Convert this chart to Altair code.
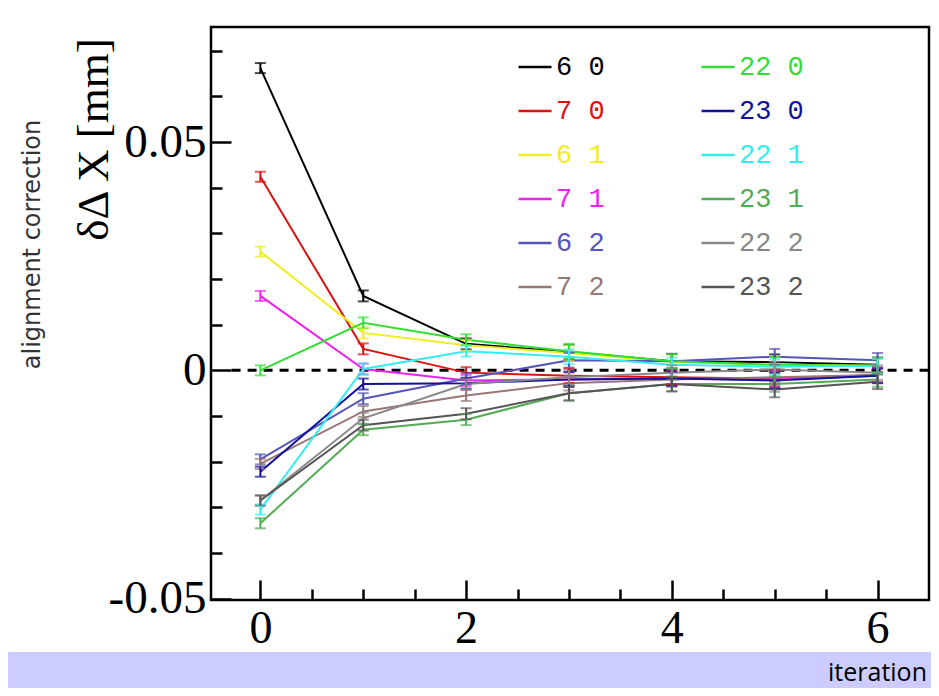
import altair as alt
import pandas as pd

iterations = [0, 1, 2, 3, 4, 5, 6]

# legend order (filled column by column, two columns)
series = ["6 0", "7 0", "6 1", "7 1", "6 2", "7 2", "22 0", "23 0", "22 1", "23 1", "22 2", "23 2"]
colors = ["#000000", "#dd1111", "#eeee22", "#ee22ee", "#5555bb", "#997777",
          "#33dd33", "#111199", "#33eeee", "#55aa55", "#888888", "#555555"]

s6_0 = [0.0662, 0.0163, 0.0058, 0.0040, 0.0020, 0.0018, 0.0012]
s7_0 = [0.0424, 0.0047, -0.0005, -0.0012, -0.0015, -0.0018, -0.0010]
s6_1 = [0.0260, 0.0082, 0.0055, 0.0038, 0.0018, 0.0012, 0.0010]
s7_1 = [0.0163, 0.0003, -0.0022, -0.0020, -0.0018, -0.0020, -0.0012]
s6_2 = [-0.0195, -0.0062, -0.0018, 0.0022, 0.0020, 0.0030, 0.0022]
s7_2 = [-0.0205, -0.0090, -0.0055, -0.0028, -0.0020, -0.0015, -0.0010]
s22_0 = [0.0000, 0.0104, 0.0067, 0.0042, 0.0020, 0.0012, 0.0010]
s23_0 = [-0.0222, -0.0030, -0.0028, -0.0020, -0.0018, -0.0022, -0.0012]
s22_1 = [-0.0305, 0.0003, 0.0042, 0.0030, 0.0012, 0.0008, 0.0010]
s23_1 = [-0.0335, -0.0130, -0.0108, -0.0050, -0.0030, -0.0030, -0.0020]
s22_2 = [-0.0285, -0.0105, -0.0030, -0.0015, -0.0005, 0.0002, -0.0005]
s23_2 = [-0.0285, -0.0120, -0.0095, -0.0050, -0.0030, -0.0042, -0.0025]

errors = [0.0011, 0.0012, 0.0012, 0.0016, 0.0016, 0.0017, 0.0016]

values = {"6 0": s6_0, "7 0": s7_0, "6 1": s6_1, "7 1": s7_1, "6 2": s6_2, "7 2": s7_2,
          "22 0": s22_0, "23 0": s23_0, "22 1": s22_1, "23 1": s23_1, "22 2": s22_2, "23 2": s23_2}

x_major = [0, 2, 4, 6]
x_minor = [0.5, 1, 1.5, 2.5, 3, 3.5, 4.5, 5, 5.5]
y_major = [-0.05, 0, 0.05]
y_major_labels = ["-0.05", "0", "0.05"]
y_minor = [-0.04, -0.03, -0.02, -0.01, 0.01, 0.02, 0.03, 0.04, 0.06, 0.07]

x_title = "iteration"
y_title = "δΔ X [mm]"
y_title2 = "alignment correction"

rows = []
for s in series:
    for it, v, e in zip(iterations, values[s], errors):
        rows.append({"series": s, "iteration": it, "value": v, "lo": v - e, "hi": v + e})
df = pd.DataFrame(rows)

W, H = 718, 573
x_scale = alt.Scale(domain=[-0.48, 6.5], nice=False, zero=False)
y_scale = alt.Scale(domain=[-0.0503, 0.0752], nice=False, zero=False)

color_map = "{" + ",".join(f"'{s}':'{c}'" for s, c in zip(series, colors)) + "}"
ylab_expr = " : ".join(f"abs(datum.value - ({v})) < 0.001 ? '{l}'" for v, l in zip(y_major, y_major_labels)) + " : ''"

color = alt.Color("series:N", scale=alt.Scale(domain=series, range=colors),
                  legend=alt.Legend(orient="none", legendX=306, legendY=22, columns=2,
                                    columnPadding=91, rowPadding=13, symbolType="stroke",
                                    symbolSize=1089, symbolStrokeWidth=2.5, labelFont="Liberation Mono",
                                    labelFontSize=27, labelOffset=3, title=None, padding=0,
                                    labelColor=alt.ExprRef(expr=color_map + "[datum.value]"),
                                    labelLimit=0))

ax_x_lab = alt.Axis(values=x_major, orient="bottom", ticks=False, domain=False, grid=False,
                    labelFont="Liberation Serif", labelFontSize=46, labelPadding=6, labelColor="black",
                    format="d", title=None)
ax_y_lab = alt.Axis(values=y_major, orient="left", ticks=False, domain=False, grid=False,
                    labelFont="Liberation Serif", labelFontSize=47, labelPadding=5, labelColor="black",
                    labelExpr=ylab_expr, title=y_title, titleFont="Liberation Serif",
                    titleFontSize=45, titleFontWeight="normal", titleAngle=270, titleX=-118, titleY=112,
                    titleAlign="center", titleBaseline="middle", titleColor="black")

ax_x_major = alt.Axis(values=x_major, orient="bottom", labels=False, ticks=True, tickSize=20, tickWidth=2.5,
                      tickColor="black", domain=False, grid=False, offset=-20, title=None)
ax_y_major = alt.Axis(values=y_major, orient="left", labels=False, ticks=True, tickSize=20, tickWidth=2.5,
                      tickColor="black", domain=False, grid=False, offset=-20, title=None)
ax_x_minor = alt.Axis(values=x_minor, orient="bottom", labels=False, ticks=True, tickSize=11, tickWidth=2.5,
                      tickColor="black", domain=False, grid=False, offset=-11, title=None)
ax_y_minor = alt.Axis(values=y_minor, orient="left", labels=False, ticks=True, tickSize=11, tickWidth=2.5,
                      tickColor="black", domain=False, grid=False, offset=-11,
                      title=y_title2, titleFont="DejaVu Sans", titleFontSize=24,
                      titleFontWeight="normal", titleColor="#333333", titleAngle=270,
                      titleX=-190, titleY=217, titleAlign="center", titleBaseline="middle")

base = alt.Chart(df)

band = alt.Chart(pd.DataFrame({"k": [0]})).mark_rect(color="#ccccff").encode(
    x=alt.value(-203), x2=alt.value(W + 2), y=alt.value(H + 52), y2=alt.value(H + 88))

xlabel = alt.Chart(pd.DataFrame({"t": [x_title]})).mark_text(
    font="Open Sans", fontSize=25, color="black", align="right", baseline="middle").encode(
    text="t:N", x=alt.value(W - 2), y=alt.value(H + 73))

ref = alt.Chart(pd.DataFrame({"y": [0.0], "x0": [-0.28], "x1": [6.5]})).mark_rule(
    color="black", strokeWidth=3, strokeDash=[9, 7]).encode(
    x=alt.X("x0:Q", scale=x_scale, axis=ax_x_major),
    x2="x1:Q",
    y=alt.Y("y:Q", scale=y_scale, axis=ax_y_major))

minor = base.mark_point(opacity=0).encode(
    x=alt.X("iteration:Q", scale=x_scale, axis=ax_x_minor),
    y=alt.Y("value:Q", scale=y_scale, axis=ax_y_minor))

lines = base.mark_line(strokeWidth=2).encode(
    x=alt.X("iteration:Q", scale=x_scale, axis=ax_x_lab),
    y=alt.Y("value:Q", scale=y_scale, axis=ax_y_lab),
    color=color)

err = base.mark_errorbar(ticks={"size": 11, "thickness": 2}, rule={"strokeWidth": 2}).encode(
    x=alt.X("iteration:Q", scale=x_scale, axis=None),
    y=alt.Y("lo:Q", scale=y_scale, axis=None),
    y2="hi:Q",
    color=alt.Color("series:N", scale=alt.Scale(domain=series, range=colors), legend=None))

chart = alt.layer(band, xlabel, ref, minor, lines, err).resolve_axis(
    x="independent", y="independent").properties(
    width=W, height=H, background="white",
    autosize=alt.AutoSizeParams(type="none"),
    padding={"left": 203, "top": 19, "right": 2, "bottom": 88}
).configure_view(stroke="black", strokeWidth=2.5).configure_axis(zindex=1)

chart.save("out.html", embed_options={"renderer": "svg", "actions": False})
